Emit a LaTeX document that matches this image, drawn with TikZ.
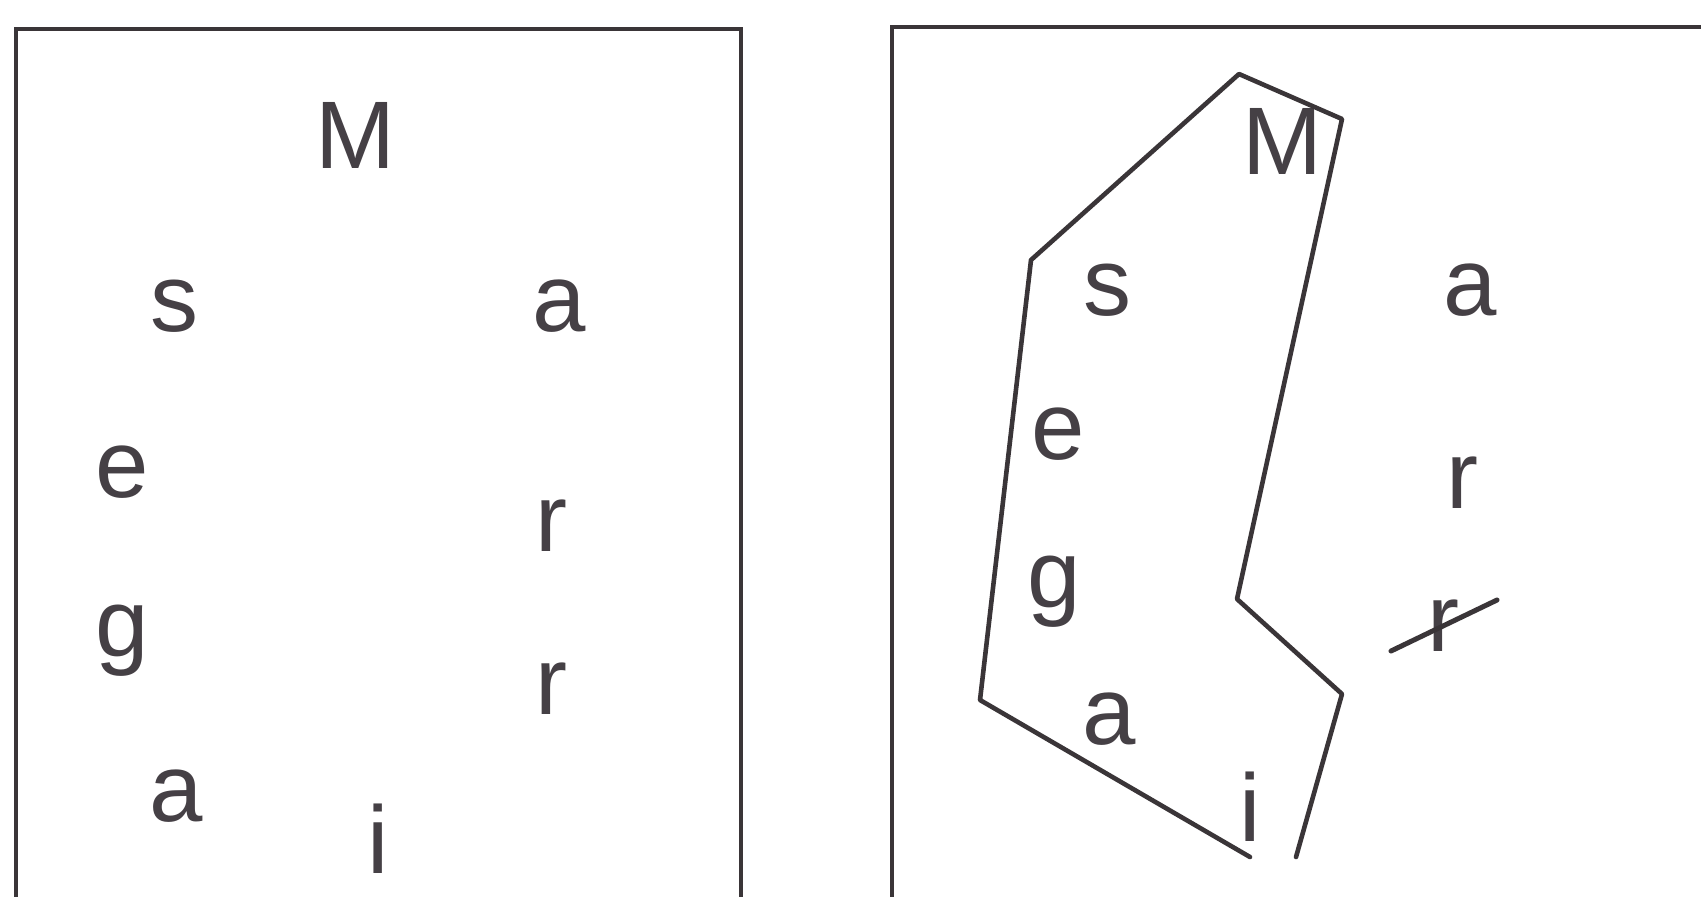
\documentclass[tikz,border=0pt]{standalone}
\usepackage{fontspec}
\setmainfont{Liberation Sans}
\definecolor{ink}{HTML}{3A3538}
\definecolor{txt}{HTML}{454045}
\begin{document}
\begin{tikzpicture}[x=0.5pt,y=-0.5pt,
  ltr/.style={anchor=base,inner sep=0pt,text=txt,font=\fontsize{48}{50}\selectfont},
  frame/.style={draw=ink,line width=1.6pt},
  outline/.style={draw=ink,line width=2.3pt,line join=round,line cap=round}]
\useasboundingbox (0,0) rectangle (1701,896);
\fill[white] (0,0) rectangle (1701,896);
% frames
\draw[frame] (16,905) -- (16,29) -- (741,29) -- (741,905);
\draw[frame] (892,905) -- (892,27) -- (1710,27);
% left panel letters
\node[ltr] (lM) at (355,168) {M};
\node[ltr] (ls) at (174,331) {s};
\node[ltr] (la1) at (559,331) {a};
\node[ltr] (le) at (122,497) {e};
\node[ltr] (lr1) at (551,551) {r};
\node[ltr] (lg) at (122,656) {g};
\node[ltr] (lr2) at (551,714) {r};
\node[ltr] (la2) at (176,821) {a};
\node[ltr] (li) at (378,873) {i};
% right panel letters
\node[ltr] (rM) at (1282,174) {M};
\node[ltr] (rs) at (1107,315) {s};
\node[ltr] (ra1) at (1470,315) {a};
\node[ltr] (re) at (1058,459) {e};
\node[ltr] (rr1) at (1462,508) {r};
\node[ltr] (rg) at (1054,607) {g};
\node[ltr] (rr2) at (1443,651) {r};
\node[ltr] (ra2) at (1109,744) {a};
\node[ltr] (ri) at (1250,841) {i};
% outline around "Mesgai"
\coordinate (p1) at (1239,74);
\coordinate (p2) at (1342,119);
\coordinate (p3) at (1237,599);
\coordinate (p4) at (1342,694);
\coordinate (p5) at (1296,857);
\coordinate (q1) at (1031,260);
\coordinate (q2) at (980,700);
\coordinate (q3) at (1250,857);
\draw[outline] (p5) -- (p4) -- (p3) -- (p2) -- (p1) -- (q1) -- (q2) -- (q3);
% strike through second r
\coordinate (s1) at (1391,651);
\coordinate (s2) at (1497,600);
\draw[outline,line width=2.5pt] (s1) -- (s2);
\end{tikzpicture}
\end{document}
